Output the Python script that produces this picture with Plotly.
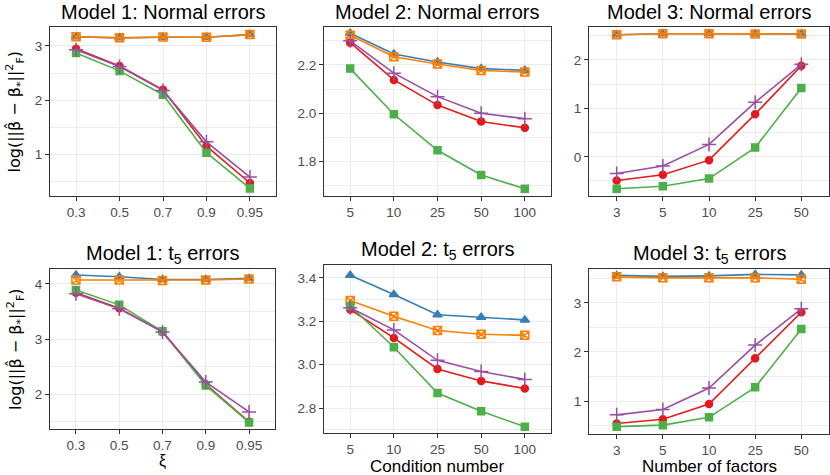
import plotly.graph_objects as go
from plotly.subplots import make_subplots

# x categories of the three columns
xi = ["0.3", "0.5", "0.7", "0.9", "0.95"]
cond = ["5", "10", "25", "50", "100"]
factors = ["3", "5", "10", "25", "50"]

# model 1, normal errors
m1n_blue = [3.17, 3.15, 3.16, 3.16, 3.21]
m1n_orange = [3.17, 3.15, 3.165, 3.16, 3.21]
m1n_red = [2.95, 2.63, 2.19, 1.15, 0.47]
m1n_purple = [2.93, 2.62, 2.18, 1.23, 0.58]
m1n_green = [2.87, 2.54, 2.10, 1.03, 0.37]

# model 2, normal errors
m2n_blue = [2.331, 2.245, 2.212, 2.185, 2.178]
m2n_orange = [2.323, 2.234, 2.204, 2.177, 2.171]
m2n_red = [2.292, 2.138, 2.034, 1.966, 1.94]
m2n_purple = [2.30, 2.166, 2.069, 2.0, 1.978]
m2n_green = [2.185, 1.996, 1.847, 1.745, 1.688]

# model 3, normal errors
m3n_blue = [2.52, 2.54, 2.54, 2.535, 2.535]
m3n_orange = [2.52, 2.54, 2.54, 2.535, 2.535]
m3n_red = [-0.49, -0.37, -0.07, 0.88, 1.88]
m3n_purple = [-0.345, -0.19, 0.256, 1.124, 1.91]
m3n_green = [-0.66, -0.61, -0.45, 0.19, 1.42]

# model 1, t5 errors
m1t_blue = [4.16, 4.13, 4.08, 4.08, 4.10]
m1t_orange = [4.07, 4.07, 4.06, 4.07, 4.09]
m1t_red = [3.84, 3.56, 3.13, 2.18, 1.50]
m1t_purple = [3.82, 3.55, 3.13, 2.22, 1.68]
m1t_green = [3.89, 3.62, 3.14, 2.16, 1.49]

# model 2, t5 errors
m2t_blue = [3.412, 3.323, 3.23, 3.218, 3.206]
m2t_orange = [3.295, 3.223, 3.157, 3.14, 3.135]
m2t_red = [3.254, 3.123, 2.98, 2.925, 2.89]
m2t_purple = [3.262, 3.16, 3.02, 2.968, 2.932]
m2t_green = [3.27, 3.08, 2.869, 2.785, 2.714]

# model 3, t5 errors
m3t_blue = [3.56, 3.54, 3.55, 3.58, 3.57]
m3t_orange = [3.53, 3.51, 3.51, 3.51, 3.48]
m3t_red = [0.545, 0.63, 0.94, 1.87, 2.81]
m3t_purple = [0.72, 0.83, 1.265, 2.14, 2.88]
m3t_green = [0.48, 0.51, 0.67, 1.28, 2.47]

titles = ["Model 1: Normal errors", "Model 2: Normal errors", "Model 3: Normal errors",
          "Model 1: t<sub>5</sub> errors", "Model 2: t<sub>5</sub> errors", "Model 3: t<sub>5</sub> errors"]

panels = [
    (1, 1, xi, [m1n_blue, m1n_orange, m1n_red, m1n_green, m1n_purple]),
    (1, 2, cond, [m2n_blue, m2n_orange, m2n_red, m2n_green, m2n_purple]),
    (1, 3, factors, [m3n_blue, m3n_orange, m3n_red, m3n_green, m3n_purple]),
    (2, 1, xi, [m1t_blue, m1t_orange, m1t_red, m1t_green, m1t_purple]),
    (2, 2, cond, [m2t_blue, m2t_orange, m2t_red, m2t_green, m2t_purple]),
    (2, 3, factors, [m3t_blue, m3t_orange, m3t_red, m3t_green, m3t_purple]),
]

# Set1 colours and ggplot-like shapes
colors = ["#377EB8", "#FF7F00", "#E41A1C", "#4DAF4A", "#984EA3"]
symbols = ["triangle-up", "square-x-open", "circle", "square", "cross-thin-open"]
sizes = [8, 8, 7, 7, 10]

W, H = 830, 475
# panel boxes in pixels: left, right, top, bottom
boxes = [(50, 276, 27, 196), (324, 551, 27, 196), (589, 829, 27, 196),
         (50, 275, 269, 429), (324, 551, 265, 433), (589, 829, 269, 434)]
yranges = [[0.23, 3.35], [1.658, 2.357], [-0.81, 2.68],
           [1.37, 4.27], [2.685, 3.459], [0.33, 3.69]]
ydticks = [1, 0.2, 1, 1, 0.2, 1]
yformats = ["d", ".1f", "d", "d", ".1f", "d"]

fig = make_subplots(rows=2, cols=3)

for row, col, xs, series in panels:
    for ys, c, s, sz in zip(series, colors, symbols, sizes):
        fig.add_trace(go.Scatter(
            x=xs, y=ys, mode="lines+markers",
            line=dict(color=c, width=1.6),
            marker=dict(color=c, symbol=s, size=sz, line=dict(color=c, width=1.5)),
            showlegend=False), row=row, col=col)

for i, (l, r, t, b) in enumerate(boxes):
    n = "" if i == 0 else str(i + 1)
    fig.layout["xaxis" + n].update(
        domain=[l / W, r / W], type="category", range=[-0.6, 4.6],
        showgrid=True, gridcolor="#EBEBEB", gridwidth=1.1,
        showline=True, mirror=True, linecolor="#333333", linewidth=1,
        ticks="outside", ticklen=4, tickcolor="#333333",
        tickfont=dict(size=13.5, color="#4D4D4D"), zeroline=False)
    fig.layout["yaxis" + n].update(
        domain=[1 - b / H, 1 - t / H], range=yranges[i], dtick=ydticks[i],
        tickformat=yformats[i],
        showgrid=True, gridcolor="#EBEBEB", gridwidth=1.1,
        minor=dict(dtick=ydticks[i] / 2, showgrid=True, gridcolor="#EBEBEB", gridwidth=0.6),
        showline=True, mirror=True, linecolor="#333333", linewidth=1,
        ticks="outside", ticklen=4, tickcolor="#333333",
        tickfont=dict(size=13.5, color="#4D4D4D"), zeroline=False)
    # panel title
    fig.add_annotation(x=(l + r) / 2 / W, y=1 - (t - 15) / H, xref="paper", yref="paper",
                       text=titles[i], showarrow=False, xanchor="center", yanchor="middle",
                       font=dict(size=20, color="black"))

ytitle = "log(||β\u0302 − β<sub>*</sub>||<sup>2</sup><sub>F</sub>)"
for t, b in [(27, 196), (269, 429)]:
    fig.add_annotation(x=15 / W, y=1 - (t + b) / 2 / H, xref="paper", yref="paper",
                       text=ytitle, showarrow=False, textangle=-90,
                       xanchor="center", yanchor="middle",
                       font=dict(size=16, color="black", family="DejaVu Sans"))

# x axis titles
fig.add_annotation(x=(50 + 275) / 2 / W, y=1 - 461 / H, xref="paper", yref="paper",
                   text="ξ", showarrow=False, xanchor="center", yanchor="middle",
                   font=dict(size=16, color="black"))
fig.add_annotation(x=(324 + 551) / 2 / W, y=1 - 466 / H, xref="paper", yref="paper",
                   text="Condition number", showarrow=False, xanchor="center", yanchor="middle",
                   font=dict(size=17, color="black"))
fig.add_annotation(x=(589 + 829) / 2 / W, y=1 - 466 / H, xref="paper", yref="paper",
                   text="Number of factors", showarrow=False, xanchor="center", yanchor="middle",
                   font=dict(size=17, color="black"))

fig.update_layout(
    width=W, height=H,
    margin=dict(l=0, r=0, t=0, b=0),
    paper_bgcolor="white", plot_bgcolor="white",
    font=dict(family="Liberation Sans, Arial, sans-serif"),
)

# drop the default page margin so the figure sits at the window corner
fig.write_html("out.html", config={"displayModeBar": False},
               post_script="document.body.style.margin='0px';")
